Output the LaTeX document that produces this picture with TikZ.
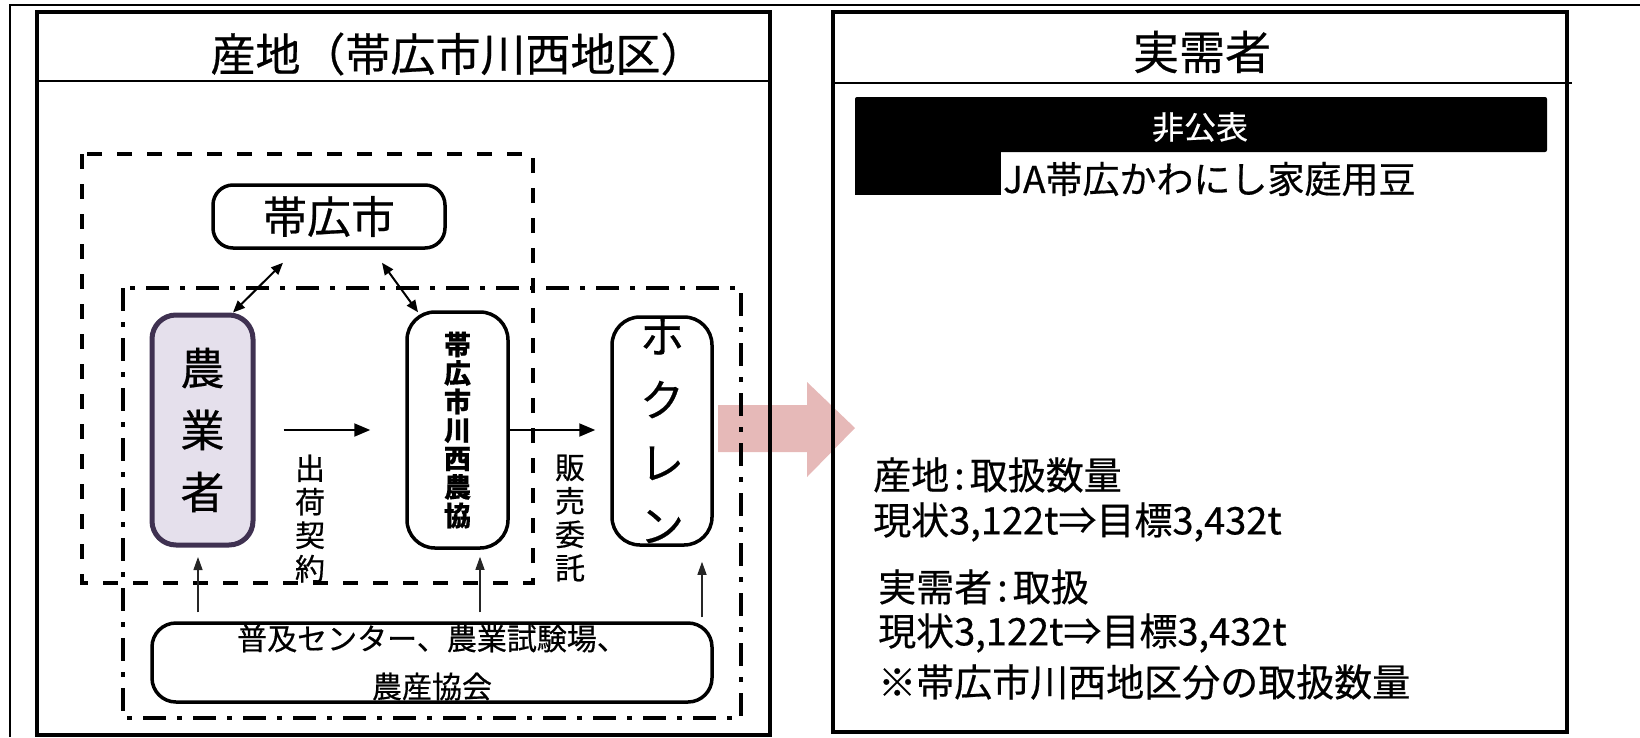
\documentclass[tikz,border=0pt]{standalone}
\usepackage{fontspec}
\setmainfont{Noto Sans CJK JP}[FakeBold=0.5]
\usetikzlibrary{arrows.meta}
\definecolor{pinkarrow}{RGB}{230,185,184}
\definecolor{farmfill}{RGB}{229,224,236}
\definecolor{farmline}{RGB}{63,49,81}
\newcommand{\fsz}[2]{\fontsize{#1pt}{#2pt}\selectfont}
\tikzset{
  panel/.style={draw, line width=4pt, inner sep=0pt},
  rbox/.style={draw, line width=3.5pt, inner sep=0pt, align=center},
  vlabel/.style={inner sep=0pt, align=center, font=\fsz{30}{33.5}},
  harr/.style={line width=2pt, -{Triangle[length=16pt,width=13pt]}},
  darr/.style={line width=2pt, {Triangle[length=12pt,width=10pt]}-{Triangle[length=12pt,width=10pt]}},
  uarr/.style={line width=1.3pt, black!85, -{Triangle[length=13pt,width=9pt]}},
  rtext/.style={anchor=west, inner sep=0pt, font=\fsz{38}{44}},
}
\begin{document}
\begin{tikzpicture}[x=1pt,y=-1pt]
\useasboundingbox (0,0) rectangle (1640,737);
% big pink arrow (behind everything)
\fill[pinkarrow] (718,405) -- (807,405) -- (807,382) -- (855,428) -- (807,477) -- (807,452) -- (718,452) -- cycle;
% outer frame
\draw[line width=2.5pt] (10,737) -- (10,5) -- (1640,5);
% left panel
\node[panel, minimum width=733pt, minimum height=723pt] (lp) at (403.5,373.5) {};
\coordinate (ly) at (0,81);
\draw[line width=2pt] (lp.west |- ly) -- (lp.east |- ly);
\node[inner sep=0pt, font=\fsz{45}{54}] (lt) at (458,54) {産地（帯広市川西地区）};
% dashed regions
\draw[line width=4pt, dash pattern=on 15pt off 15pt] (82,154) rectangle (533,583);
\draw[line width=4pt, dash pattern=on 23pt off 11pt on 5pt off 11pt] (123,288) rectangle (741,718);
% boxes
\node[rbox, rounded corners=20pt, minimum width=232pt, minimum height=63pt, font=\fsz{44}{50}] (city) at (329,216.5) {帯広市};
\node[draw=farmline, fill=farmfill, line width=5pt, rounded corners=24pt, minimum width=101pt, minimum height=230pt, inner sep=0pt, align=center, font=\fsz{44}{62}] (farmer) at (202.5,430) {農\\業\\者};
\node[rbox, rounded corners=28pt, minimum width=101pt, minimum height=236pt, font=\fsz{27}{28.5}\bfseries] (nokyo) at (457.5,430) {帯\\広\\市\\川\\西\\農\\協};
\node[rbox, rounded corners=28pt, minimum width=100pt, minimum height=228pt, font=\fsz{44}{63}] (hoku) at (662,431) {ホ\\ク\\レ\\ン};
\node[rbox, rounded corners=24pt, minimum width=560pt, minimum height=79pt, font=\fsz{30}{48}] (ext) at (432,662.5) {普及センター、農業試験場、\\農産協会};
% labels
\node[vlabel] (ship) at (310,518.5) {出\\荷\\契\\約};
\node[vlabel] (sell) at (570,518) {販\\売\\委\\託};
% arrows
\draw[harr, shorten <=28pt, shorten >=35pt] (farmer.east) -- (farmer.east -| nokyo.west);
\draw[harr, shorten >=15pt] (nokyo.east) -- (nokyo.east -| hoku.west);
\draw[darr] ([xshift=-46pt,yshift=-13pt]city.south) -- ([xshift=30.5pt]farmer.north);
\draw[darr] ([xshift=53pt,yshift=-13pt]city.south) -- ([xshift=-39.5pt,yshift=-2pt]nokyo.north);
\coordinate (u1) at (198,0);
\coordinate (u2) at (480,0);
\coordinate (u3) at (702,0);
\draw[uarr, shorten <=9pt, shorten >=9.5pt] (ext.north -| u1) -- (u1 |- farmer.south);
\draw[uarr, shorten <=9pt, shorten >=7pt] (ext.north -| u2) -- (u2 |- nokyo.south);
\draw[uarr, shorten <=4pt, shorten >=15pt] (ext.north -| u3) -- (u3 |- hoku.south);
% right panel
\node[panel, minimum width=734pt, minimum height=720pt] (rp) at (1200,372) {};
\coordinate (ry) at (0,83);
\coordinate (ryr) at (1572,83);
\draw[line width=2pt] (rp.west |- ry) -- (ryr);
\node[inner sep=0pt, font=\fsz{46}{55}] (rt) at (1202,52) {実需者};
% redaction
\fill[rounded corners=2pt] (855,97) rectangle (1547,152);
\fill (855,148) rectangle (1001,195);
\node[inner sep=0pt, text=white, font=\fsz{32}{38}] (np) at (1200,127) {非公表};
\node[anchor=west, inner sep=0pt, font=\fsz{37}{42}] (ja) at (1003,179) {JA帯広かわにし家庭用豆};
% quantities
\node[rtext] (q1) at (873,475) {産地\hspace{5pt}:\hspace{5pt}取扱数量};
\node[rtext] (q2) at (873,522) {現状3,122t⇒目標3,432t};
\node[rtext] (q3) at (878,587) {実需者\hspace{5pt}:\hspace{5pt}取扱};
\node[rtext] (q4) at (878,633) {現状3,122t⇒目標3,432t};
\node[rtext] (q5) at (878,682) {※帯広市川西地区分の取扱数量};
\end{tikzpicture}
\end{document}
